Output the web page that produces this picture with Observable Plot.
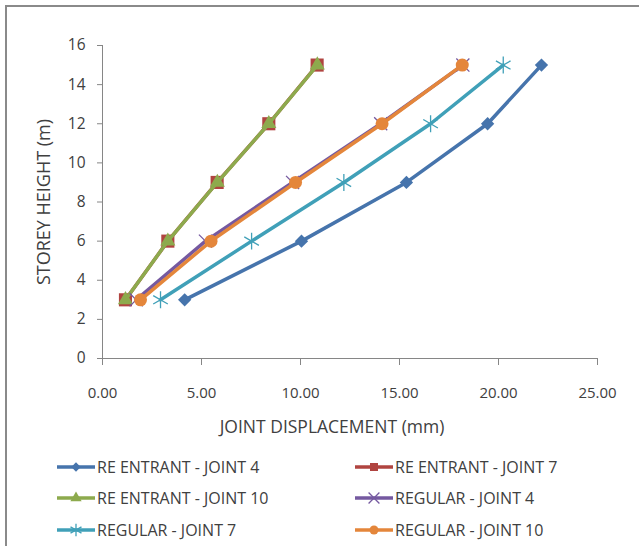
<!DOCTYPE html>
<html>
<head>
<meta charset="utf-8">
<script src="https://cdn.jsdelivr.net/npm/d3@7"></script>
<script src="https://cdn.jsdelivr.net/npm/@observablehq/plot@0.6"></script>
<style>
  body { margin: 0; background: #fff; }
  #wrap { position: relative; width: 639px; height: 546px; overflow: hidden; font-family: "Open Sans", sans-serif; color: #404040; }
  #frame { position: absolute; left: 5px; top: 5px; width: 700px; height: 700px; border-left: 2px solid #8a8a8a; border-top: 2px solid #8a8a8a; }
  #chart { position: absolute; left: 0; top: 0; }
  .leg { position: absolute; display: flex; align-items: center; font-size: 16px; color: #404040; white-space: nowrap; }
  .leg svg { display: block; margin-right: 2px; }
</style>
</head>
<body>
<div id="wrap"><div id="frame"></div><div id="chart"></div></div>
<script>
const storeys = [3, 6, 9, 12, 15];
const seriesNames = ["RE ENTRANT - JOINT 4", "RE ENTRANT - JOINT 7", "RE ENTRANT - JOINT 10", "REGULAR - JOINT 4", "REGULAR - JOINT 7", "REGULAR - JOINT 10"];
const reEntrantJ4 = [4.15, 10.05, 15.35, 19.45, 22.17];
const reEntrantJ7 = [1.16, 3.3, 5.79, 8.4, 10.84];
const reEntrantJ10 = [1.16, 3.3, 5.8, 8.4, 10.85];
const regularJ4 = [1.7, 5.2, 9.6, 14.05, 18.2];
const regularJ7 = [2.93, 7.53, 12.19, 16.57, 20.24];
const regularJ10 = [1.92, 5.48, 9.75, 14.12, 18.17];
const xTicks = [0, 5, 10, 15, 20, 25];
const yTicks = [0, 2, 4, 6, 8, 10, 12, 14, 16];
const xTitle = "JOINT DISPLACEMENT (mm)";
const yTitle = "STOREY HEIGHT (m)";

const colors = ["#4674AC", "#B04440", "#8DAA4D", "#7559A0", "#40A0B8", "#E4863B"];
const symbols = ["diamond2", "square", "triangle", "times", "asterisk", "circle"];
const filled = [true, true, true, false, false, true];
const sizes = [6, 7.4, 5.6, 6, 8, 6.5];
const legSizes = [4.2, 4.5, 4.2, 5, 6, 4.5];
const allValues = [reEntrantJ4, reEntrantJ7, reEntrantJ10, regularJ4, regularJ7, regularJ10];

const series = allValues.map((vals, i) => vals.map((v, j) => ({name: seriesNames[i], x: v, y: storeys[j]})));

const marks = [
  Plot.ruleY([0], {stroke: "#868686", strokeWidth: 1}),
  Plot.ruleX([0], {stroke: "#868686", strokeWidth: 1}),
  Plot.axisX({ticks: xTicks, tickFormat: d3.format(".2f"), tickSize: 7, tickPadding: 22, stroke: "#868686", fontSize: 15, fill: "#404040", label: null}),
  Plot.axisY({ticks: yTicks, tickSize: 5, tickPadding: 12, stroke: "#868686", fontSize: 15.5, fill: "#404040", label: null}),
  Plot.text([xTitle], {frameAnchor: "bottom", dy: 69, dx: -18, fontSize: 17.5, fill: "#404040", lineAnchor: "middle"}),
  Plot.text([yTitle], {frameAnchor: "left", dx: -58, rotate: -90, fontSize: 18, fill: "#404040", lineAnchor: "middle", textAnchor: "middle"})
];
series.forEach((data, i) => {
  marks.push(Plot.line(data, {x: "x", y: "y", stroke: colors[i], strokeWidth: 3.5}));
  marks.push(Plot.dot(data, filled[i]
    ? {x: "x", y: "y", symbol: () => symbols[i], fill: colors[i], stroke: "none", r: sizes[i]}
    : {x: "x", y: "y", symbol: () => symbols[i], fill: "none", stroke: colors[i], strokeWidth: 1.3, r: sizes[i]}));
});

const chart = Plot.plot({
  width: 639,
  height: 440,
  marginLeft: 102,
  marginRight: 42,
  marginTop: 45,
  marginBottom: 82,
  style: {fontFamily: '"Open Sans", sans-serif', background: "transparent", overflow: "visible"},
  x: {domain: [0, 25], axis: null},
  y: {domain: [0, 16], axis: null},
  symbol: {type: "identity"},
  marks
});
document.getElementById("chart").appendChild(chart);

// legend
const legPos = [[57, 467], [355, 467], [57, 498], [355, 498], [57, 530], [355, 530]];
const symMap = {diamond2: d3.symbolDiamond2, square: d3.symbolSquare, triangle: d3.symbolTriangle, times: d3.symbolTimes, asterisk: d3.symbolAsterisk, circle: d3.symbolCircle};
seriesNames.forEach((name, i) => {
  const div = document.createElement("div");
  div.className = "leg";
  div.style.left = legPos[i][0] + "px";
  div.style.top = (legPos[i][1] - 11) + "px";
  div.style.height = "22px";
  const r = legSizes[i];
  const path = d3.symbol(symMap[symbols[i]], Math.PI * r * r)();
  const svg = `<svg width="38" height="22"><line x1="0" x2="38" y1="11" y2="11" stroke="${colors[i]}" stroke-width="3.5"/>` +
    `<path transform="translate(19,11)" d="${path}" ${filled[i] ? `fill="${colors[i]}"` : `fill="none" stroke="${colors[i]}" stroke-width="1.3"`}/></svg>`;
  div.innerHTML = svg + `<span>${name}</span>`;
  document.getElementById("wrap").appendChild(div);
});
</script>
</body>
</html>
